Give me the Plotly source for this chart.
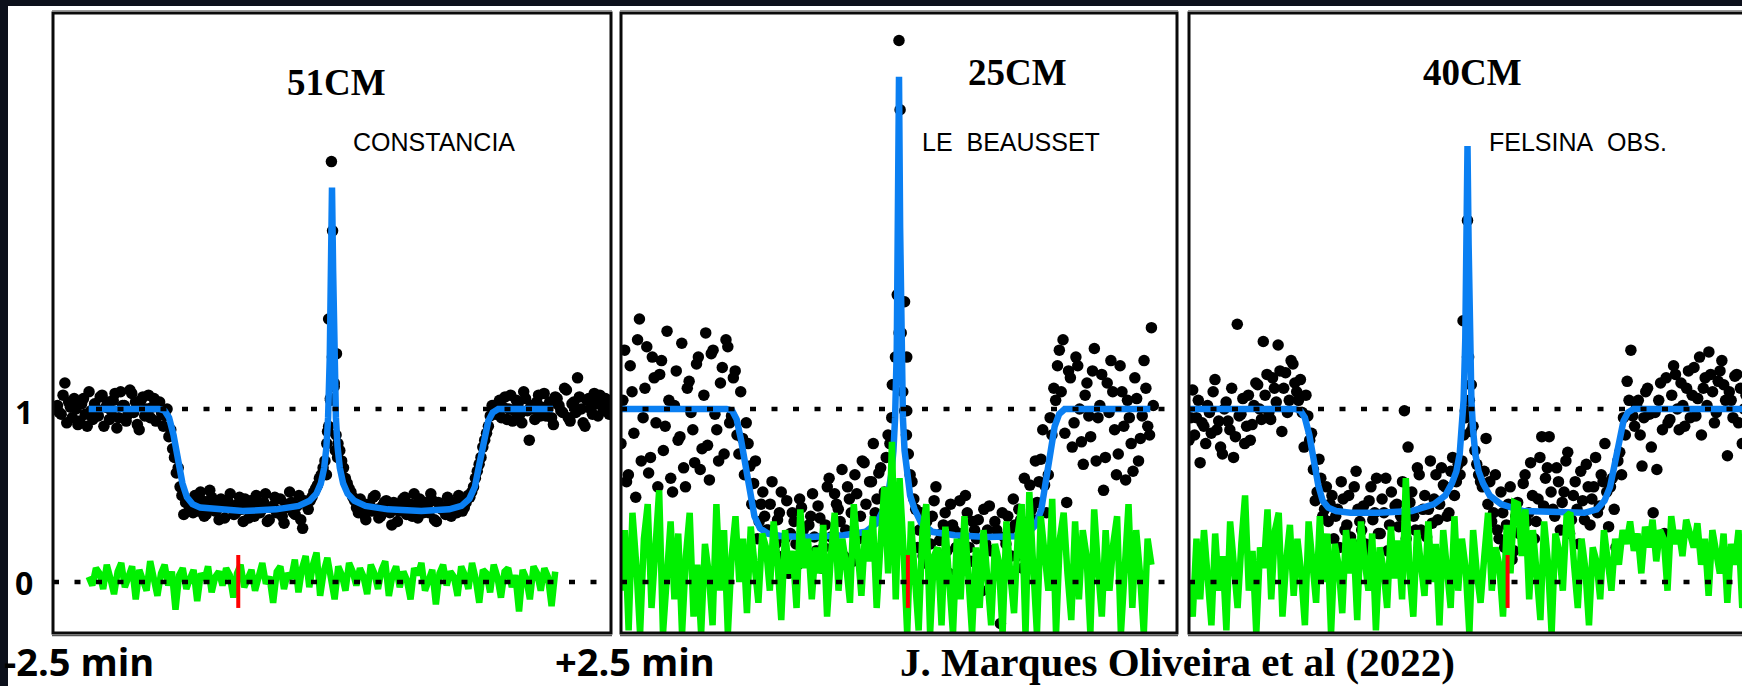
import numpy as np
import plotly.graph_objects as go

W, H = 1742, 686

# ---------------- data ----------------
# time axis in minutes, flux normalised (1 = unocculted, 0 = zero)
titles = ["51CM", "25CM", "40CM"]
sites = ["CONSTANCIA", "LE\u00a0\u00a0BEAUSSET", "FELSINA\u00a0\u00a0OBS."]
y_tick_labels = ["1", "0"]
x_labels = ["-2.5 min", "+2.5 min"]
credit = "J. Marques Oliveira et al (2022)"

# ---- panel 1 (51CM, Constancia) ----
p1_span = [-2.46, 2.50]
p1_flux = [1.02, 0.97, 1.15, 1.04, 0.95, 1.00, 0.93, 1.06, 0.90, 0.99, 1.03, 0.96, 1.08, 1.01, 0.94,
           1.05, 0.89, 1.10, 1.02, 0.97, 1.09, 1.04, 0.88, 1.07, 1.00, 0.95, 1.06, 1.02, 0.98,
           0.96, 0.84, 0.77, 0.63, 0.55, 0.39, 0.47,
           0.44, 0.50, 0.41, 0.47, 0.39, 0.53, 0.45, 0.42, 0.48, 0.37, 0.46, 0.43, 0.40, 0.49, 0.35,
           0.44, 0.47, 0.38, 0.45, 0.42, 0.51, 0.36, 0.44, 0.40, 0.48, 0.34, 0.43, 0.46, 0.39, 0.50,
           0.31, 0.45, 0.47, 0.52,
           0.56, 0.62, 0.70, 0.90, 1.30, 0.85, 0.76, 0.66, 0.57, 0.52,
           0.47, 0.40, 0.44, 0.36, 0.45, 0.49, 0.42, 0.38, 0.46, 0.43, 0.33, 0.44, 0.41, 0.48, 0.39,
           0.45, 0.51, 0.37, 0.43, 0.46, 0.40, 0.47, 0.35, 0.44, 0.42, 0.49, 0.38, 0.45, 0.50, 0.41, 0.46,
           0.49, 0.55, 0.64, 0.72, 0.82, 0.90, 1.02,
           0.97, 1.05, 1.01, 0.94, 1.08, 0.99, 1.03, 0.92, 1.06, 0.82, 1.00, 1.04, 0.96, 1.09, 1.01,
           0.95, 1.07, 1.02, 0.98, 1.11, 0.93, 1.04, 1.18, 1.00, 0.90, 1.06, 0.97, 1.03, 1.08, 0.99,
           1.05, 1.01]
# second, interleaved set of samples (half a sample later)
p1_flux_b = [0.98, 1.08, 0.92, 1.01, 1.06, 0.91, 1.03, 0.97, 1.10, 0.94, 1.00, 1.07, 0.90, 1.04, 0.99,
             1.09, 0.95, 1.02, 0.93, 1.11, 0.98, 0.91, 1.05, 0.96, 1.08, 1.01, 0.93, 1.04, 0.90,
             1.00, 0.88, 0.72, 0.66, 0.50, 0.46, 0.42,
             0.40, 0.46, 0.52, 0.38, 0.44, 0.49, 0.41, 0.36, 0.47, 0.43, 0.51, 0.39, 0.45, 0.42, 0.48,
             0.37, 0.44, 0.50, 0.40, 0.46, 0.35, 0.43, 0.49, 0.41, 0.38, 0.45, 0.52, 0.40, 0.44, 0.36,
             0.47, 0.42, 0.49, 0.54,
             0.60, 0.66, 0.80, 1.05, 1.15, 0.80, 0.70, 0.60, 0.54, 0.49,
             0.43, 0.48, 0.39, 0.45, 0.41, 0.50, 0.37, 0.44, 0.47, 0.40, 0.46, 0.35, 0.43, 0.49, 0.42,
             0.38, 0.45, 0.48, 0.40, 0.44, 0.51, 0.36, 0.46, 0.42, 0.39, 0.47, 0.44, 0.40, 0.48, 0.43, 0.50,
             0.52, 0.60, 0.68, 0.78, 0.86, 0.96, 1.00,
             1.03, 0.95, 1.07, 1.00, 0.93, 1.05, 0.97, 1.10, 0.99, 1.02, 0.94, 1.08, 1.01, 0.96, 1.04,
             0.91, 1.06, 0.99, 1.12, 0.95, 1.03, 0.98, 1.07, 0.92, 1.05, 1.00, 1.09, 0.96, 1.02, 1.06,
             0.97, 1.03]
p1_flash_t = [-0.05, -0.04, -0.03, -0.015, -0.005, 0.005, 0.02, 0.03, 0.04, 0.05]
p1_flash_y = [0.62, 0.87, 1.52, 1.06, 2.43, 2.03, 1.13, 0.76, 1.32, 0.72]
p1_model_t = [-2.18, -1.55, -1.50, -1.46, -1.42, -1.38, -1.34, -1.30, -1.25, -1.18, -1.05, -0.80,
              -0.50, -0.30, -0.20, -0.14, -0.10, -0.07, -0.05, -0.035, -0.02, -0.01, 0.0, 0.01,
              0.02, 0.035, 0.05, 0.07, 0.10, 0.14, 0.20, 0.30, 0.50, 0.80, 1.05, 1.16, 1.23, 1.28,
              1.32, 1.36, 1.40, 1.44, 1.49, 1.55, 1.98]
p1_model_y = [1.0, 1.0, 0.99, 0.95, 0.85, 0.70, 0.57, 0.49, 0.45, 0.43, 0.42, 0.41,
              0.42, 0.44, 0.47, 0.51, 0.57, 0.66, 0.78, 0.95, 1.30, 1.80, 2.28, 1.80,
              1.30, 0.95, 0.78, 0.66, 0.57, 0.51, 0.47, 0.44, 0.42, 0.41, 0.42, 0.44, 0.48, 0.55,
              0.68, 0.82, 0.93, 0.98, 1.0, 1.0, 1.0]
p1_res_span = [-2.18, 2.00]
p1_res = [0.03, -0.02, 0.08, 0.05, -0.04, 0.10, 0.02, -0.07, 0.06, 0.11, -0.03, 0.04, 0.09, -0.10,
          0.07, 0.01, -0.05, 0.12, 0.03, -0.08, 0.05, 0.10, -0.02, 0.06, -0.16, 0.04, 0.08, -0.04,
          0.02, 0.07, -0.11, 0.05, 0.01, 0.09, -0.06, 0.03, 0.06, -0.02, 0.08, 0.04, -0.09, 0.05,
          0.10, -0.03, 0.02, 0.07, -0.05, 0.04, 0.11, -0.01, 0.03, -0.12, 0.06, 0.09, -0.04, 0.05,
          0.02, 0.13, -0.06, 0.08, 0.15, -0.03, 0.10, 0.17, -0.08, 0.06, 0.14, 0.02, -0.10, 0.09,
          0.04, -0.05, 0.11, 0.06, -0.02, 0.08, 0.03, -0.07, 0.10, 0.05, -0.04, 0.07, 0.12, -0.08,
          0.04, 0.09, -0.03, 0.06, 0.01, -0.10, 0.08, 0.04, 0.11, -0.05, 0.02, 0.07, -0.13, 0.05,
          0.10, -0.02, 0.06, 0.03, -0.08, 0.09, 0.04, -0.04, 0.11, 0.02, -0.12, 0.07, 0.05, -0.06,
          0.10, 0.03, -0.09, 0.06, 0.08, -0.03, 0.04, -0.17, 0.07, 0.02, -0.10, 0.09, 0.05, -0.05,
          0.08, 0.03, -0.14, 0.06]
p1_mark_t = -0.84

# ---- panel 2 (25CM, Le Beausset) ----
p2_span = [-2.50, 2.27]
p2_flux = [0.80, 1.34, 0.62, 1.10, 0.49, 1.52, 0.95, 1.36, 0.72, 1.18, 0.55, 1.28, 0.90, 1.05, 0.52,
           1.22, 0.84, 0.66, 1.12, 0.98, 0.69, 1.30, 0.77, 1.44, 0.59, 1.34, 0.88, 1.15, 0.74, 1.36,
           0.96, 1.22,
           0.74, 0.83, 0.92, 0.67, 0.57, 0.25, 0.45, 0.38,
           0.30, 0.58, 0.22, 0.40, 0.15, 0.47, 0.28, 0.35, 0.10, 0.43, 0.20, 0.33, 0.51, 0.18, 0.37,
           0.20, 0.55, 0.26, 0.51, 0.42, 0.65, 0.30, 0.48, 0.12, 0.51, 0.38, 0.69, 0.28, 0.58, 0.40,
           0.63, 0.35, 0.72,
           0.80, 1.14, 1.66, 1.30, 0.99, 0.74,
           0.58, 0.42, 0.30, 0.15, 0.35, 0.22, 0.47, 0.10, 0.28, 0.40, 0.05, 0.33, 0.20, 0.47, 0.25,
           0.40, 0.12, 0.30, 0.36, -0.05, 0.22, 0.44, 0.18, 0.30, -0.24, 0.26, 0.38, 0.15, 0.33, 0.42,
           0.08, 0.28, 0.56, 0.36,
           0.46, 0.71, 0.56, 0.62, 0.85, 1.05,
           1.34, 1.40, 0.46, 1.18, 0.92, 1.25, 0.81, 1.08, 0.96, 1.22, 0.70, 1.02, 0.53, 1.15, 1.28,
           0.88, 0.74, 1.10, 0.59, 0.95, 0.64, 1.06, 0.83, 1.28, 0.90, 1.47]
p2_flux_b = [1.05, 0.58, 1.25, 0.86, 1.40, 0.70, 1.12, 0.63, 1.30, 0.92, 1.20, 0.76, 1.45, 0.60, 1.02,
             0.82, 1.38, 0.55, 1.16, 0.88, 1.26, 0.65, 1.08, 0.79, 1.32, 0.97, 0.70, 1.24, 1.40, 0.92,
             1.18, 0.85,
             1.10, 0.62, 0.80, 0.45, 0.70, 0.35, 0.52, 0.30,
             0.45, 0.18, 0.36, 0.52, 0.25, 0.05, 0.40, 0.22, 0.48, 0.30, 0.14, 0.38, 0.26, 0.44, 0.08,
             0.33, 0.60, 0.20, 0.45, 0.35, 0.15, 0.55, 0.40, 0.62, 0.25, 0.70, 0.45, 0.58, 0.80, 0.48,
             0.66, 0.52, 0.85,
             0.95, 1.30, 1.44, 1.10, 0.85, 0.62,
             0.48, 0.20, 0.40, 0.27, 0.10, 0.38, 0.55, 0.24, 0.33, 0.18, 0.45, 0.30, 0.02, 0.28, 0.50,
             0.20, 0.35, 0.25, 0.12, 0.42, 0.30, 0.18, 0.35, 0.08, 0.40, 0.22, 0.30, 0.48, 0.15, 0.36,
             0.60, 0.25, 0.42, 0.70,
             0.58, 0.88, 0.40, 0.95, 1.12, 1.25,
             1.10, 0.86, 1.22, 0.78, 1.30, 1.00, 0.68, 1.15, 0.84, 1.35, 0.95, 1.20, 0.72, 0.98, 1.10,
             0.62, 1.25, 0.90, 1.05, 0.80, 1.18, 0.70, 0.96, 1.12, 0.85, 1.02]
p2_flash_t = [0.0, 0.01, -0.01, 0.05, 0.02, 0.07, -0.06, 0.07]
p2_flash_y = [3.13, 2.73, 1.66, 1.62, 1.44, 1.30, 1.14, 0.99]
p2_model_t = [-2.50, -1.55, -1.50, -1.46, -1.42, -1.38, -1.34, -1.30, -1.25, -1.18, -1.05, -0.80,
              -0.50, -0.30, -0.20, -0.14, -0.10, -0.07, -0.05, -0.035, -0.02, -0.01, 0.0, 0.01,
              0.02, 0.035, 0.05, 0.07, 0.10, 0.14, 0.20, 0.30, 0.50, 0.80, 1.05, 1.16, 1.23, 1.28,
              1.32, 1.36, 1.40, 1.44, 1.49, 1.55, 2.26]
p2_model_y = [1.0, 1.0, 0.99, 0.94, 0.82, 0.66, 0.50, 0.38, 0.31, 0.28, 0.265, 0.26,
              0.27, 0.29, 0.34, 0.42, 0.50, 0.62, 0.76, 0.95, 1.35, 2.05, 2.92, 2.05,
              1.35, 0.95, 0.76, 0.62, 0.50, 0.42, 0.34, 0.29, 0.27, 0.26, 0.265, 0.28, 0.33, 0.42,
              0.58, 0.76, 0.90, 0.97, 1.0, 1.0, 1.0]
p2_res_span = [-2.50, 2.27]
p2_res = [-0.05, 0.30, -0.28, 0.40, 0.10, -0.30, 0.25, 0.45, -0.15, 0.20, 0.53, -0.30, 0.05, 0.35,
          -0.10, 0.28, -0.30, 0.15, 0.40, -0.20, 0.10, -0.30, 0.22, 0.05, -0.25, 0.45, -0.05, 0.30,
          -0.30, 0.15, 0.38, 0.00, 0.25, -0.18, 0.32, 0.10, -0.12, 0.28, 0.20, -0.05, 0.35, 0.12,
          -0.22, 0.30, 0.05, 0.18, -0.15, 0.42, 0.08, 0.25, -0.10, 0.20, 0.05, 0.33, -0.20, 0.15,
          0.40, -0.05, 0.25, 0.10, -0.12, 0.45, 0.18, -0.08, 0.30, 0.12, 0.38, -0.15, 0.22, 0.55,
          0.05, 0.81, -0.10, 0.60, 0.20, -0.30, 0.35, 0.05, -0.28, 0.30, 0.45, -0.30, 0.15, 0.20,
          -0.25, 0.32, 0.05, -0.30, 0.25, -0.10, 0.38, 0.10, -0.30, 0.20, -0.15, 0.30, 0.00, -0.25,
          0.22, 0.12, -0.30, 0.35, 0.05, -0.18, 0.28, 0.45, -0.30, 0.52, 0.10, -0.30, 0.38, 0.20,
          -0.05, 0.48, -0.30, 0.25, 0.40, 0.05, -0.22, 0.35, -0.10, 0.30, 0.15, -0.30, 0.42, 0.08,
          -0.20, 0.30, -0.05, 0.22, 0.38, -0.30, 0.10, 0.45, -0.15, 0.30, 0.05, -0.30, 0.25, 0.10]
p2_mark_t = 0.08

# ---- panel 3 (40CM, Felsina Obs.) ----
p3_span = [-2.50, 2.50]
p3_flux = [0.82, 1.11, 0.95, 0.69, 0.90, 1.02, 0.86, 1.17, 0.93, 0.74, 1.04, 0.88, 0.72, 1.49, 0.97,
           0.80, 1.08, 0.91, 1.15, 1.00, 1.39, 1.20, 0.94, 1.12, 1.37, 0.87, 1.21, 1.05, 1.26, 1.10,
           1.17,
           0.78, 0.96, 0.86, 0.47, 0.71, 0.38, 0.55, 0.45,
           0.25, 0.42, 0.58, 0.30, 0.50, 0.22, 0.64, 0.35, 0.44, 0.18, 0.55, 0.40, 0.28, 0.48, 0.60,
           0.33, 0.13, 0.45, 0.38, 0.99, 0.78, 0.52, 0.30, 0.62, 0.42, 0.26, 0.70, 0.48, 0.36, 0.66,
           0.55, 0.40, 0.72, 0.58,
           0.62, 0.85, 1.30, 1.14, 0.76, 0.62, 0.55,
           0.83, 0.58, 0.40, 0.30, 0.52, 0.20, 0.45, 0.13, 0.38, 0.28, 0.57, 0.35, 0.69, 0.25, 0.48,
           0.84, 0.60, 0.84, 0.42, 0.66, 0.30, 0.52, 0.75, 0.36, 0.58, 0.22, 0.47, 0.68, 0.33, 0.55,
           0.40, 0.62, 0.80,
           0.32, 0.60, 0.20, 0.75, 0.95, 1.16, 1.34,
           0.90, 1.05, 0.67, 1.10, 0.97, 0.40, 0.65, 1.15, 0.28, 0.92, 1.08, 1.20, 0.88, 1.02, 1.12,
           0.95, 1.24, 1.06, 0.85, 1.18, 1.33, 1.10, 0.98, 1.22, 1.14, 0.73, 1.05, 1.19, 0.92, 0.80,
           1.08]
p3_flux_b = [0.95, 0.85, 1.05, 0.92, 0.80, 0.98, 1.10, 0.88, 0.78, 1.00, 0.93, 1.12, 0.84, 0.96, 1.06,
             0.90, 0.82, 1.02, 1.14, 0.94, 1.08, 0.98, 1.18, 1.04, 1.22, 1.12, 0.98, 1.28, 1.15, 1.05,
             0.98,
             1.08, 0.82, 0.65, 0.52, 0.60, 0.42, 0.35, 0.50,
             0.38, 0.20, 0.48, 0.33, 0.26, 0.55, 0.42, 0.30, 0.22, 0.47, 0.36, 0.60, 0.28, 0.40, 0.18,
             0.52, 0.44, 0.32, 0.58, 0.25, 0.46, 0.38, 0.66, 0.30, 0.50, 0.42, 0.34, 0.62, 0.45, 0.56,
             0.38, 0.64, 0.50, 0.68,
             0.70, 0.95, 1.05, 0.90, 0.68, 0.58, 0.64,
             0.45, 0.35, 0.62, 0.25, 0.40, 0.33, 0.55, 0.18, 0.46, 0.30, 0.62, 0.40, 0.50, 0.35, 0.72,
             0.44, 0.66, 0.52, 0.38, 0.58, 0.46, 0.70, 0.28, 0.50, 0.42, 0.64, 0.36, 0.55, 0.48, 0.72,
             0.44, 0.58, 0.52,
             0.55, 0.42, 0.70, 0.62, 0.85, 1.05, 0.96,
             1.02, 0.85, 0.95, 1.12, 0.78, 0.98, 1.05, 0.88, 1.18, 0.94, 1.25, 1.00, 1.15, 0.90, 1.22,
             1.08, 0.96, 1.30, 1.12, 1.02, 1.20, 0.92, 1.16, 1.28, 1.05, 1.10, 0.95, 1.20, 1.12, 1.00,
             0.90]
p3_flash_t = [0.0, -0.04, 0.01, 0.03, -0.02, 0.03]
p3_flash_y = [2.09, 1.51, 1.30, 1.14, 0.99, 0.87]
p3_model_t = [-2.50, -1.55, -1.50, -1.46, -1.42, -1.38, -1.34, -1.30, -1.25, -1.18, -1.05, -0.80,
              -0.50, -0.30, -0.20, -0.14, -0.10, -0.07, -0.05, -0.035, -0.02, -0.01, 0.0, 0.01,
              0.02, 0.035, 0.05, 0.07, 0.10, 0.14, 0.20, 0.30, 0.50, 0.80, 1.05, 1.16, 1.23, 1.28,
              1.32, 1.36, 1.40, 1.44, 1.49, 1.55, 2.50]
p3_model_y = [1.0, 1.0, 0.99, 0.95, 0.85, 0.70, 0.56, 0.47, 0.43, 0.41, 0.40, 0.40,
              0.41, 0.45, 0.50, 0.57, 0.64, 0.74, 0.88, 1.05, 1.40, 1.95, 2.52, 1.95,
              1.40, 1.05, 0.88, 0.74, 0.64, 0.57, 0.50, 0.45, 0.41, 0.40, 0.40, 0.42, 0.47, 0.55,
              0.68, 0.82, 0.93, 0.98, 1.0, 1.0, 1.0]
p3_res_span = [-2.50, 2.50]
p3_res = [0.00, -0.20, 0.25, -0.10, 0.30, 0.05, -0.25, 0.28, -0.05, 0.15, -0.28, 0.35, 0.10, -0.15,
          0.22, 0.50, -0.05, 0.18, -0.30, 0.20, 0.08, 0.42, -0.10, 0.30, 0.40, -0.20, 0.12, 0.33,
          -0.08, 0.25, 0.05, -0.25, 0.35, 0.15, -0.12, 0.38, 0.00, 0.28, -0.30, 0.22, 0.10, -0.18,
          0.30, 0.05, 0.25, -0.22, 0.35, 0.12, -0.05, 0.28, -0.28, 0.20, 0.08, -0.15, 0.32, 0.02,
          0.24, -0.10, 0.60, 0.05, -0.20, 0.30, 0.12, -0.08, 0.35, 0.00, 0.22, -0.25, 0.30, 0.10,
          -0.15, 0.38, -0.05, 0.25, 0.08, -0.30, 0.30, 0.05, -0.12, 0.15, 0.40, -0.05, 0.20, 0.10,
          -0.20, 0.33, 0.05, 0.46, 0.45, 0.15, 0.42, -0.10, 0.30, 0.05, -0.22, 0.35, 0.12, -0.30,
          0.28, 0.18, -0.05, 0.38, 0.40, 0.10, -0.15, 0.25, 0.08, -0.25, 0.20, 0.12, -0.10, 0.30,
          0.15, -0.05, 0.25, 0.10, 0.30, 0.22, 0.35, 0.18, 0.28, 0.05, 0.32, 0.20, 0.36, 0.12,
          0.30, 0.25, -0.05, 0.38, 0.22, 0.30, 0.15, 0.36, 0.28, 0.20, 0.34, 0.10, 0.25, -0.08,
          0.30, 0.18, 0.05, 0.28, -0.12, 0.22, 0.10, 0.30, -0.15, 0.20]
p3_mark_t = 0.36

mark_y = [-0.15, 0.156]

# ---------------- styling / layout ----------------
BLUE = "#0a7ff2"
GREEN = "#00f000"
RED = "#ff0000"
DARK = "#0c101b"

# panel frames in pixels (left, right) ; shared top/bottom
panel_px = [(53, 611), (621, 1177), (1189, 1746)]
top_px, bot_px = 13, 633
y_range = [-0.2948, 3.289]

def fx(px):
    return px / W

def fy(py):
    return 1 - py / H

fig = go.Figure()

panels = [
    (p1_span, p1_flux, p1_flux_b, p1_flash_t, p1_flash_y, p1_model_t, p1_model_y, p1_res_span, p1_res, p1_mark_t),
    (p2_span, p2_flux, p2_flux_b, p2_flash_t, p2_flash_y, p2_model_t, p2_model_y, p2_res_span, p2_res, p2_mark_t),
    (p3_span, p3_flux, p3_flux_b, p3_flash_t, p3_flash_y, p3_model_t, p3_model_y, p3_res_span, p3_res, p3_mark_t),
]
axis_names = ["x", "x2", "x3"]

for k, (span, flux, flux_b, ft, fyv, mt, my, rspan, res, mark) in enumerate(panels):
    xa = axis_names[k]
    t = np.linspace(span[0], span[1], len(flux))
    half = (t[1] - t[0]) / 2.0
    tb = np.linspace(span[0] + half, span[1] + half, len(flux_b))
    xs = np.concatenate([t, tb, ft])
    ys = list(flux) + list(flux_b) + list(fyv)
    fig.add_trace(go.Scatter(x=xs, y=ys, mode="markers",
                             marker=dict(size=11.5, color="black", line=dict(width=0)),
                             xaxis=xa, yaxis="y", hoverinfo="skip"))
    fig.add_trace(go.Scatter(x=mt, y=my, mode="lines", line=dict(color=BLUE, width=6.5),
                             xaxis=xa, yaxis="y", hoverinfo="skip"))
    tr = np.linspace(rspan[0], rspan[1], len(res))
    fig.add_trace(go.Scatter(x=tr, y=res, mode="lines", line=dict(color=GREEN, width=6.5),
                             xaxis=xa, yaxis="y", hoverinfo="skip"))
    fig.add_trace(go.Scatter(x=[mark, mark], y=mark_y, mode="lines", line=dict(color=RED, width=4),
                             xaxis=xa, yaxis="y", hoverinfo="skip"))
    for lvl in (1, 0):
        fig.add_trace(go.Scatter(x=[-2.5, 2.5], y=[lvl, lvl], mode="lines",
                                 line=dict(color="black", width=4.5, dash="6px,15.5px"),
                                 xaxis=xa, yaxis="y", hoverinfo="skip"))

axis_common = dict(visible=False, showgrid=False, zeroline=False, fixedrange=True)
layout_axes = {}
for k, (l, r) in enumerate(panel_px):
    name = "xaxis" if k == 0 else f"xaxis{k+1}"
    rr = min(r, W)
    ppm = (r - l) / 5.0
    layout_axes[name] = dict(domain=[fx(l), fx(rr)], range=[-2.5, -2.5 + (rr - l) / ppm],
                             anchor="y", **axis_common)
layout_axes["yaxis"] = dict(domain=[fy(bot_px), fy(top_px)], range=y_range, anchor="x", **axis_common)

shapes = []
for (l, r) in panel_px:
    shapes.append(dict(type="rect", xref="paper", yref="paper", x0=fx(l), x1=fx(r), y0=fy(bot_px),
                       y1=fy(top_px), line=dict(color="#0a0a0a", width=3), layer="above"))
    shapes.append(dict(type="line", xref="paper", yref="paper", x0=fx(l - 1), x1=fx(r + 1),
                       y0=fy(top_px - 2.5), y1=fy(top_px - 2.5), line=dict(color="#9a9a9a", width=1.2),
                       layer="above"))
    shapes.append(dict(type="line", xref="paper", yref="paper", x0=fx(l - 1), x1=fx(r + 1),
                       y0=fy(bot_px + 2.5), y1=fy(bot_px + 2.5), line=dict(color="#555555", width=1.5),
                       layer="above"))
shapes.append(dict(type="rect", xref="paper", yref="paper", x0=0, x1=fx(8), y0=0, y1=1,
                   fillcolor=DARK, line=dict(width=0), layer="above"))
shapes.append(dict(type="rect", xref="paper", yref="paper", x0=0, x1=1, y0=fy(6), y1=1,
                   fillcolor=DARK, line=dict(width=0), layer="above"))

ann = []
title_pos = [(336, 83), (1017, 72), (1472, 72)]
for txt, (x, y) in zip(titles, title_pos):
    ann.append(dict(text=f"<b>{txt}</b>", x=fx(x), y=fy(y), xref="paper", yref="paper",
                    xanchor="center", yanchor="middle", showarrow=False,
                    font=dict(family="Liberation Serif", size=37, color="black")))
site_pos = [(351, 142), (920, 142), (1487, 142)]
for txt, (x, y) in zip(sites, site_pos):
    ann.append(dict(text=txt, x=fx(x), y=fy(y), xref="paper", yref="paper",
                    xanchor="left", yanchor="middle", showarrow=False,
                    font=dict(family="Liberation Sans", size=25, color="black")))
for txt, y in zip(y_tick_labels, (411, 582)):
    ann.append(dict(text=f"<b>{txt}</b>", x=fx(24), y=fy(y), xref="paper", yref="paper",
                    xanchor="center", yanchor="middle", showarrow=False,
                    font=dict(family="Open Sans", size=32, color="black")))
for txt, x in zip(x_labels, (2, 553)):
    ann.append(dict(text=f"<b>{txt}</b>", x=fx(x), y=fy(661), xref="paper", yref="paper",
                    xanchor="left", yanchor="middle", showarrow=False,
                    font=dict(family="Open Sans", size=38, color="black")))
ann.append(dict(text=f"<b>{credit}</b>", x=fx(898), y=fy(662), xref="paper", yref="paper",
                xanchor="left", yanchor="middle", showarrow=False,
                font=dict(family="Liberation Serif", size=41, color="black")))

fig.update_layout(width=W, height=H, margin=dict(l=0, r=0, t=0, b=0, pad=0),
                  paper_bgcolor="white", plot_bgcolor="white", showlegend=False,
                  shapes=shapes, annotations=ann, **layout_axes)

fig.write_html("out.html")
